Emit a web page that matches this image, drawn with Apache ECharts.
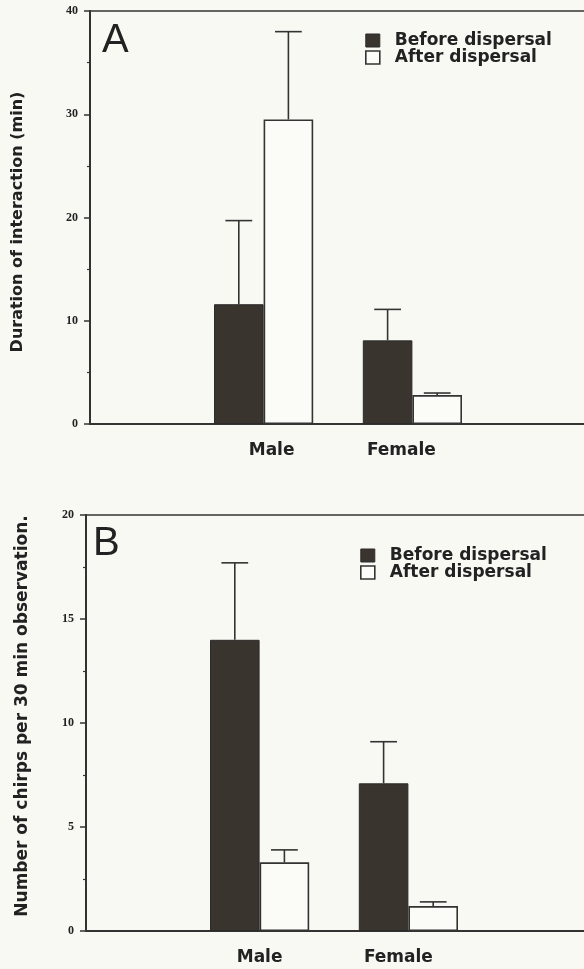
<!DOCTYPE html>
<html>
<head>
<meta charset="utf-8">
<script src="https://cdn.jsdelivr.net/npm/echarts@6/dist/echarts.min.js"></script>
<style>
html,body{margin:0;padding:0;background:#f9f9f4;}
#main{width:584px;height:969px;}
</style>
</head>
<body>
<div id="main"></div>
<script>
var groups = ['Male', 'Female'];
var seriesNames = ['Before dispersal', 'After dispersal'];

// panel A: duration of interaction (min)
var durBefore = [11.6, 8.1];
var durBeforeSE = [8.1, 3.0];
var durAfter = [29.5, 2.8];
var durAfterSE = [8.5, 0.2];

// panel B: chirps per 30 min observation
var chirpBefore = [14.0, 7.1];
var chirpBeforeSE = [3.7, 2.0];
var chirpAfter = [3.3, 1.2];
var chirpAfterSE = [0.6, 0.2];

var slotCount = 11;      // empty slots so the groups sit where they do in the figure
var groupSlot = [3, 6];
var ink = '#333';
var sans = 'DejaVu Sans';

function slotLabels(shift) {
    var arr = [];
    for (var i = 0; i < slotCount; i++) arr.push('');
    groups.forEach(function (g, k) {
        arr[groupSlot[k]] = {value: g, textStyle: {padding: shift[k]}};
    });
    return arr;
}
function slotValues(vals) {
    var arr = [];
    for (var i = 0; i < slotCount; i++) arr.push(null);
    vals.forEach(function (v, k) { arr[groupSlot[k]] = v; });
    return arr;
}
function errRows(before, beforeSE, after, afterSE) {
    var rows = [];
    groups.forEach(function (g, k) {
        rows.push([groupSlot[k], before[k], before[k] + beforeSE[k], 0]);
        rows.push([groupSlot[k], after[k], after[k] + afterSE[k], 1]);
    });
    return rows;
}

function renderErr(params, api) {
    var slot = api.value(0), side = api.value(3);
    var band = api.size([1, 0])[0];
    var base = api.coord([slot, api.value(1)]);
    var top = api.coord([slot, api.value(2)]);
    var x = base[0] + (side === 0 ? -0.5 : 0.5) * band;
    var half = band * 0.27;
    var st = {stroke: ink, lineWidth: 1.6};
    return {type: 'group', children: [
        {type: 'line', shape: {x1: x, y1: base[1], x2: x, y2: top[1]}, style: st},
        {type: 'line', shape: {x1: x - half, y1: top[1], x2: x + half, y2: top[1]}, style: st}
    ]};
}

function xAxisFor(i, shift) {
    return {
        type: 'category', gridIndex: i, data: slotLabels(shift),
        axisLine: {lineStyle: {color: ink, width: 2}},
        axisTick: {show: false},
        axisLabel: {interval: 0, margin: 18, fontFamily: sans, fontWeight: 'bold', fontSize: 17, color: '#222'}
    };
}
function yAxisFor(i, max, step, name, gap, pad, size) {
    return {
        type: 'value', gridIndex: i, min: 0, max: max, interval: step,
        name: name, nameLocation: 'middle', nameGap: gap,
        nameTextStyle: {fontFamily: sans, fontWeight: 'bold', fontSize: size, color: '#222', padding: pad},
        axisLine: {show: true, lineStyle: {color: ink, width: 2}},
        axisTick: {show: true, length: 6, lineStyle: {color: ink, width: 1.5}},
        minorTick: {show: true, splitNumber: 2, length: 3, lineStyle: {color: ink, width: 1.2}},
        splitLine: {show: false},
        axisLabel: {margin: 12, fontFamily: 'Liberation Serif', fontWeight: 'bold', fontSize: 12, color: '#222'}
    };
}
function barPair(i, before, after) {
    return [{
        name: seriesNames[0], type: 'bar', xAxisIndex: i, yAxisIndex: i,
        data: slotValues(before), barWidth: '100%', barGap: '0%',
        itemStyle: {color: '#3a342e', borderColor: '#2b2b2b', borderWidth: 1}
    }, {
        name: seriesNames[1], type: 'bar', xAxisIndex: i, yAxisIndex: i,
        data: slotValues(after), barWidth: '100%', barGap: '0%',
        itemStyle: {color: '#fbfbf7', borderColor: ink, borderWidth: 1.6}
    }];
}
function legendFor(left, top) {
    return {
        left: left, top: top, orient: 'vertical', padding: 0, itemGap: 0,
        itemWidth: 14, itemHeight: 13, icon: 'rect', selectedMode: false,
        data: [
            {name: seriesNames[0], itemStyle: {color: '#3a342e', borderColor: '#2b2b2b', borderWidth: 1}},
            {name: seriesNames[1], itemStyle: {color: '#fbfbf7', borderColor: ink, borderWidth: 1.6}}
        ],
        textStyle: {fontFamily: sans, fontWeight: 'bold', fontSize: 17, lineHeight: 15, color: '#222', padding: [0, 0, 0, 10]}
    };
}

var myChart = echarts.init(document.getElementById('main'));
var option = {
    backgroundColor: '#f9f9f4',
    animation: false,
    title: [
        {text: 'A', left: 102, top: 21, padding: 0, textStyle: {fontFamily: 'Liberation Sans', fontWeight: 'normal', fontSize: 40, color: '#222'}},
        {text: 'B', left: 93, top: 524, padding: 0, textStyle: {fontFamily: 'Liberation Sans', fontWeight: 'normal', fontSize: 40, color: '#222'}}
    ],
    legend: [legendFor(365, 32), legendFor(360, 547)],
    grid: [
        {left: 90, top: 11, width: 49.6 * slotCount, height: 413, outerBoundsMode: 'none', show: true, borderColor: ink, borderWidth: 1.5, backgroundColor: 'transparent'},
        {left: 86, top: 515, width: 49.6 * slotCount, height: 416, outerBoundsMode: 'none', show: true, borderColor: ink, borderWidth: 1.5, backgroundColor: 'transparent'}
    ],
    xAxis: [xAxisFor(0, [[0, 0, 0, 16], [0, 22, 0, 0]]), xAxisFor(1, [[0, 0, 0, 0], [0, 20, 0, 0]])],
    yAxis: [
        yAxisFor(0, 40, 10, 'Duration of interaction (min)', 64, [0, 9, 0, 0], 16),
        yAxisFor(1, 20, 5, 'Number of chirps per 30 min observation.', 55, [0, 0, 0, 14], 17)
    ],
    series: barPair(0, durBefore, durAfter).concat(barPair(1, chirpBefore, chirpAfter)).concat([
        {type: 'custom', xAxisIndex: 0, yAxisIndex: 0, renderItem: renderErr, encode: {x: 0, y: [1, 2]},
         data: errRows(durBefore, durBeforeSE, durAfter, durAfterSE), z: 3},
        {type: 'custom', xAxisIndex: 1, yAxisIndex: 1, renderItem: renderErr, encode: {x: 0, y: [1, 2]},
         data: errRows(chirpBefore, chirpBeforeSE, chirpAfter, chirpAfterSE), z: 3}
    ])
};
myChart.setOption(option);
</script>
</body>
</html>
